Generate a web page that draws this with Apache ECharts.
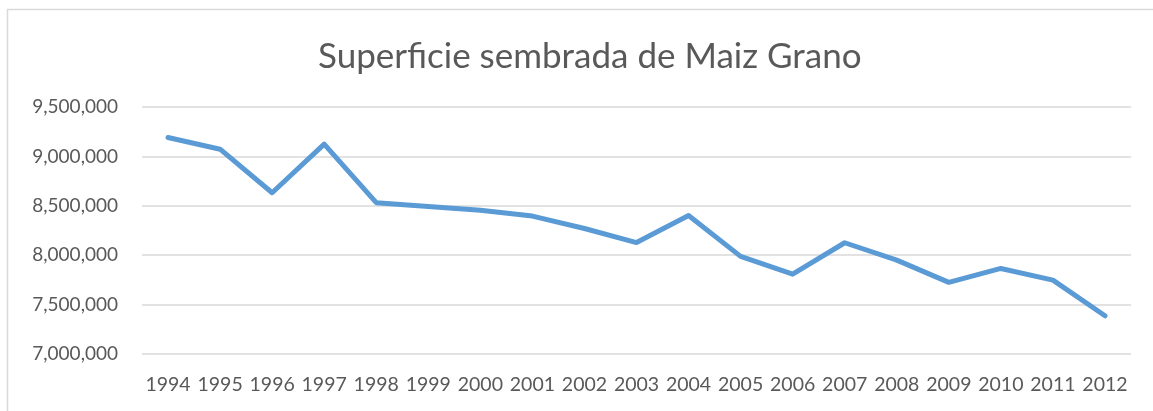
<!DOCTYPE html>
<html>
<head>
<meta charset="utf-8">
<script src="https://cdn.jsdelivr.net/npm/echarts@6/dist/echarts.min.js"></script>
<style>
  html, body { margin: 0; padding: 0; background: #fff; }
  #chart { width: 1153px; height: 411px; }
</style>
</head>
<body>
<div id="chart"></div>
<script>
const years = ['1994', '1995', '1996', '1997', '1998', '1999', '2000', '2001', '2002', '2003',
  '2004', '2005', '2006', '2007', '2008', '2009', '2010', '2011', '2012'];
const superficie = [9191000, 9073000, 8632000, 9125000, 8532000, 8492000, 8455000, 8396000, 8270000, 8128000,
  8402000, 7988000, 7808000, 8126000, 7950000, 7725000, 7866000, 7748000, 7387000];
const yTicks = [7000000, 9500000, 500000]; // min, max, interval

const chart = echarts.init(document.getElementById('chart'));

const fmt = v => v.toString().replace(/\B(?=(\d{3})+(?!\d))/g, ',');

const option = {
  backgroundColor: '#ffffff',
  animation: false,
  title: {
    text: 'Superficie sembrada de Maiz Grano',
    left: 313,
    top: 34,
    textStyle: { fontFamily: 'Lato', fontSize: 35, fontWeight: 'normal', color: '#595959' }
  },
  graphic: [{
    type: 'rect',
    shape: { x: 7.5, y: 9.5, width: 1200, height: 450 },
    style: { fill: 'none', stroke: '#d9d9d9', lineWidth: 1.5 },
    silent: true
  }],
  grid: { left: 142, right: 22, top: 107, bottom: 57 },
  xAxis: {
    type: 'category',
    data: years,
    boundaryGap: true,
    axisLine: { show: false },
    axisTick: { show: false },
    axisLabel: { interval: 0, color: '#595959', fontFamily: 'Lato', fontSize: 19.5, margin: 21 }
  },
  yAxis: {
    type: 'value',
    min: yTicks[0],
    max: yTicks[1],
    interval: yTicks[2],
    axisLine: { show: false },
    axisTick: { show: false },
    splitLine: { lineStyle: { color: '#d9d9d9', width: 1.5 } },
    axisLabel: { color: '#595959', fontFamily: 'Lato', fontSize: 19, margin: 24, formatter: fmt }
  },
  series: [{
    type: 'line',
    data: superficie,
    showSymbol: false,
    lineStyle: { color: '#5b9bd5', width: 5, cap: 'round', join: 'round' }
  }]
};
chart.setOption(option);
</script>
</body>
</html>
